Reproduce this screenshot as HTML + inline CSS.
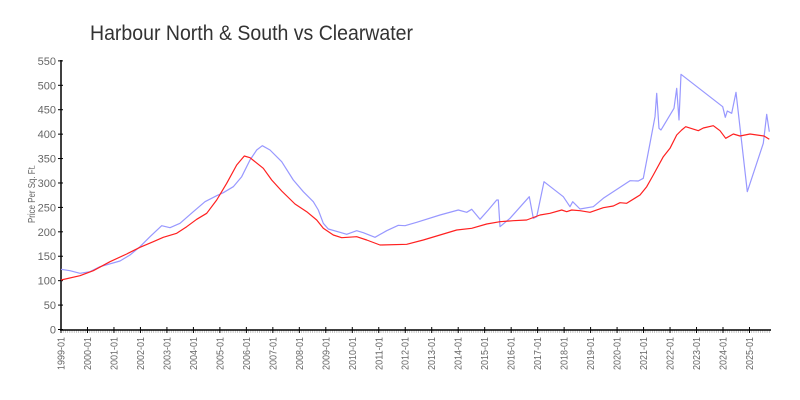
<!DOCTYPE html>
<html><head><meta charset="utf-8"><style>
html,body{margin:0;padding:0;background:#fff;}
svg{display:block;}
text{font-family:"Liberation Sans",sans-serif;}
</style></head><body>
<svg width="800" height="400" viewBox="0 0 800 400" xmlns="http://www.w3.org/2000/svg">
<rect width="800" height="400" fill="#fff"/>
<text x="90" y="40" font-size="21" fill="#333" textLength="323" lengthAdjust="spacingAndGlyphs">Harbour North &amp; South vs Clearwater</text>
<g id="minor" stroke="#b8b8b8" stroke-width="0.8"></g>
<g fill="#666" font-size="11" text-anchor="end">
<text x="56" y="333.5">0</text>
<text x="56" y="309">50</text>
<text x="56" y="284.6">100</text>
<text x="56" y="260.2">150</text>
<text x="56" y="235.8">200</text>
<text x="56" y="211.4">250</text>
<text x="56" y="187">300</text>
<text x="56" y="162.5">350</text>
<text x="56" y="138.1">400</text>
<text x="56" y="113.7">450</text>
<text x="56" y="89.3">500</text>
<text x="56" y="64.9">550</text>
</g>
<text transform="translate(35,194) rotate(-90)" font-size="10" fill="#666" text-anchor="middle" textLength="58" lengthAdjust="spacingAndGlyphs">Price Per Sq. Ft.</text>
<g id="yt" stroke="#000" stroke-width="1"></g>
<g id="xt" stroke="#000" stroke-width="1"></g>
<g id="xl" fill="#666" font-size="10"></g>
<line x1="61" y1="60" x2="61" y2="330" stroke="#000" stroke-width="1.5"/>
<line x1="60" y1="330" x2="771" y2="330" stroke="#000" stroke-width="1.5"/>
<polyline fill="none" stroke="#9898ff" stroke-width="1.2" stroke-linejoin="round" points="61,269.3 70,270.7 80,273.3 90,271.7 100,266.7 120,261 130,255 140,246.7 150,236.7 161.7,225.7 170,227.7 180,223.3 193.3,211.7 205,201.7 216.7,195.7 223.3,192.7 233.3,186.7 241.7,176.7 250,160 256.7,150 262.3,145.7 270,150 281.7,161.7 293.3,180 303.3,191.7 313.3,201.7 318.3,210 323.3,223.3 328.3,229 340,232.3 346.7,234.3 356.7,230.7 363.3,232.7 375,237.3 386.7,230.7 398.3,225.3 405,225.7 416.7,222.3 440,215 458.3,210 466.7,212.3 471.7,209.3 480,219.3 488.3,210 496.7,200 498.3,200 500,226.7 510,218.3 529.3,196.7 533.3,218.3 536.7,216.7 544,181.7 563.3,196.7 570,206.7 572.7,201.7 580,209 593.3,206.7 603.3,198.3 630,180.7 638.3,181 643.3,178.3 650,143.3 655,116.7 656.7,93.3 659,128.3 661,130 674,108.3 676.7,88.3 679,120 681,74.3 722.7,106.7 725.3,117.3 727.3,111 731.7,113.3 736,92.3 747.3,191.7 763.3,143.3 766.7,114.3 769.3,131.7"/>
<polyline fill="none" stroke="#ff2020" stroke-width="1.2" stroke-linejoin="round" points="61,280 80,275.7 93.3,270.7 110,261.7 126.7,254 140,247.3 153.3,241.7 163.3,237.3 176.7,233.3 186.7,226.7 196.7,219.3 206.7,213.3 216.7,200 226.7,183.3 236.7,165 244.3,156 250,157.7 263.3,168.3 271.7,180 281.7,191 295,204 306.7,211.7 316.7,220 323.3,228.3 333.3,235 341.7,237.7 356.7,236.7 366.7,240 380,245 406.7,244.3 423.3,240 440,235 456.7,230 471.7,228.3 486.7,224 500,221.7 513.3,220.7 526.7,220 540,215 550,213.3 561.7,210 566.7,211.7 571.7,210 580,210.7 590,212.3 603.3,207.7 613.3,206 620,202.7 626.7,203.3 640,195 646.7,186.7 653.3,175 663.3,156.7 670,148.3 676.7,135 681.7,130 685.7,126.7 698.3,130.7 703.3,128 713.3,125.7 720,130.7 725.7,138.3 733.3,134 740,136 750,134 764,136 769.3,139.3"/>
</svg>
<script>
(function(){
var NS="http://www.w3.org/2000/svg";
function el(t,a,p){var e=document.createElementNS(NS,t);for(var k in a)e.setAttribute(k,a[k]);p.appendChild(e);return e;}
var minor=document.getElementById("minor"),xt=document.getElementById("xt"),xl=document.getElementById("xl"),yt=document.getElementById("yt");
var step=26.48;
for(var m=0;m<=321;m++){var x=61+m*step/12;if(x>770)break;el("line",{x1:x,y1:330,x2:x,y2:333},minor);}
for(var y=0;y<=26;y++){var x=61+y*step;
el("line",{x1:x,y1:327,x2:x,y2:333},xt);
var t=el("text",{transform:"translate("+(x+3.5)+",370) rotate(-90)",textLength:"33",lengthAdjust:"spacingAndGlyphs"},xl);
t.textContent=(1999+y)+"-01";}
for(var v=0;v<=550;v+=50){var yy=329.5-v*0.4884;el("line",{x1:58,y1:yy,x2:63,y2:yy},yt);}
})();
</script>
</body></html>
